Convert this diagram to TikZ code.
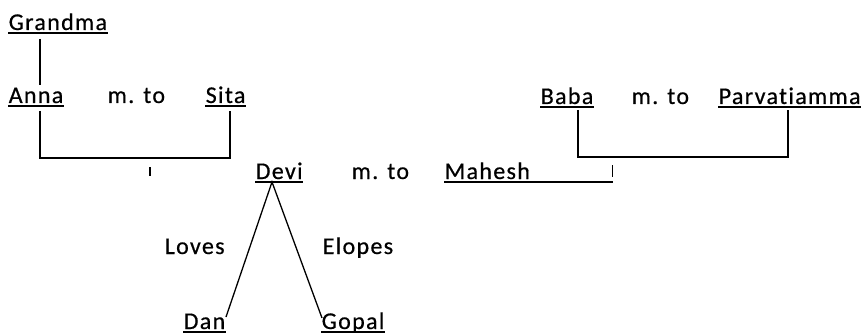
\documentclass[tikz,border=0pt]{standalone}
\usepackage{fontspec}
\setmainfont{Carlito}[Ligatures={NoCommon,NoRequired,NoContextual},LetterSpace=5.5,FakeBold=0.5]
\begin{document}
\begin{tikzpicture}[x=1pt,y=-1pt,line width=1.5pt,
  label text/.style={anchor=base west,inner sep=0pt,font=\fontsize{24}{28}\selectfont},
  person/.style={label text},
  link/.style={line width=1.6pt},
  tick/.style={line width=1.6pt}]
\useasboundingbox (0,0) rectangle (862,334);

% people and captions (x = left edge, y = baseline)
\node[person] (grandma) at (8,30)  {Grandma};
\node[person] (anna)    at (8,103) {Anna};
\node[label text] (m1)  at (107,103) {m. to};
\node[person] (sita)    at (205,103) {Sita};
\node[person] (baba)    at (540,104) {Baba};
\node[label text] (m3)  at (631,104) {m. to};
\node[person] (parv)    at (718,104) {Parvatiamma};
\node[person] (devi)    at (255,179) {Devi};
\node[label text] (m2)  at (351,179) {m. to};
\node[person] (mahesh)  at (444,179) {Mahesh};
\node[label text] (loves)  at (164,254) {Loves};
\node[label text] (elopes) at (322,254) {Elopes};
\node[person] (dan)     at (183,329) {Dan};
\node[person] (gopal)   at (321,329) {Gopal};

% underlines of the names
\foreach \n in {grandma,anna,sita,baba,parv,devi,dan,gopal}
  \draw[link] ([yshift=-3pt]\n.base west) -- ([yshift=-3pt]\n.base east);

% Grandma to Anna
\coordinate (g1) at (40,39);
\coordinate (g2) at (40,85);
\draw[link] (g1) -- (g2);

% Anna and Sita bracket
\coordinate (a1) at (40,111);
\coordinate (a2) at (40,158);
\coordinate (s1) at (230,111);
\coordinate (s2) at (230,158);
\draw[link] (a1) -- (a2) -- (s2) -- (s1);
\coordinate (t1a) at (150,167);
\coordinate (t1b) at (150,176);
\draw[tick] (t1a) -- (t1b);

% Baba and Parvatiamma bracket
\coordinate (b1) at (578,110);
\coordinate (b2) at (578,157);
\coordinate (p1) at (788,110);
\coordinate (p2) at (788,157);
\draw[link] (b1) -- (b2) -- (p2) -- (p1);

% Mahesh underline running to the tick
\coordinate (t2a) at (612.5,165);
\coordinate (t2b) at (612.5,177);
\draw[link] ([yshift=-3pt]mahesh.base west) -- ([yshift=-3pt]mahesh.base west -| t2b);
\draw[tick] (t2a) -- (t2b);

% Devi to Dan and Gopal
\coordinate (apex) at (272,182);
\coordinate (dl) at (226,317);
\coordinate (gr) at (322,318);
\draw[line width=1.3pt] (dl) -- (apex) -- (gr);
\end{tikzpicture}
\end{document}
